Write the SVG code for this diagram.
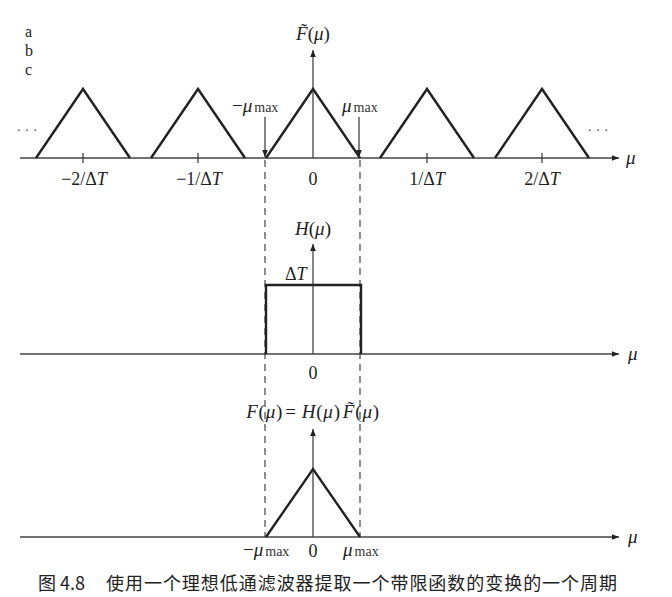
<svg xmlns="http://www.w3.org/2000/svg" width="672" height="597" viewBox="0 0 672 597">
<style>
.ax{stroke:#444;stroke-width:1.3;fill:none}
.th{stroke:#222;stroke-width:2.4;fill:none;stroke-linejoin:miter}
.dash{stroke:#333;stroke-width:1.1;stroke-dasharray:7,5;fill:none}
.tick{stroke:#333;stroke-width:1.2}
.m{font-family:"Liberation Serif",serif;font-style:italic;font-size:19px;fill:#222}
.r{font-family:"Liberation Serif",serif;font-size:18px;fill:#222}
.abc{font-family:"Liberation Serif",serif;font-size:16px;fill:#222}
.sub{font-family:"Liberation Serif",serif;font-size:14px;fill:#333;font-style:normal}
.dots{font-family:"Liberation Serif",serif;font-size:14px;fill:#555}
.cap{font-family:"Noto Sans CJK SC",sans-serif;font-size:18px;fill:#222}
</style>
<defs>
<marker id="ar" viewBox="0 0 10 10" refX="10" refY="5" markerWidth="8" markerHeight="7" markerUnits="userSpaceOnUse" orient="auto">
<path d="M0,1 L10,5 L0,9 z" fill="#222"/>
</marker>
</defs>

<g id="panel-labels">
<text class="abc" x="25" y="37">a</text>
<text class="abc" x="25" y="56">b</text>
<text class="abc" x="25" y="75">c</text>
</g>

<g id="connectors">
<line class="ax" x1="20" y1="158" x2="619" y2="158" marker-end="url(#ar)"/>
<line class="ax" x1="313" y1="158" x2="313" y2="50" marker-end="url(#ar)"/>
<line class="ax" x1="265" y1="117" x2="265" y2="157" marker-end="url(#ar)"/>
<line class="ax" x1="359" y1="117" x2="359" y2="157" marker-end="url(#ar)"/>
<line class="ax" x1="20" y1="354" x2="619" y2="354" marker-end="url(#ar)"/>
<line class="ax" x1="313" y1="354" x2="313" y2="244" marker-end="url(#ar)"/>
<line class="ax" x1="20" y1="537" x2="619" y2="537" marker-end="url(#ar)"/>
<line class="ax" x1="313" y1="537" x2="313" y2="429" marker-end="url(#ar)"/>
<line class="dash" x1="265" y1="160" x2="265" y2="537"/>
<line class="dash" x1="360" y1="160" x2="360" y2="537"/>
</g>

<g id="panel-a">
<polyline class="th" points="36,158 83,89 130,158"/>
<polyline class="th" points="151,158 198,89 245,158"/>
<polyline class="th" points="266,158 313,89 360,158"/>
<polyline class="th" points="380,158 427,89 474,158"/>
<polyline class="th" points="495,158 542,89 589,158"/>
<line class="tick" x1="83" y1="153" x2="83" y2="163"/>
<line class="tick" x1="198" y1="153" x2="198" y2="163"/>
<line class="tick" x1="427" y1="153" x2="427" y2="163"/>
<line class="tick" x1="542" y1="153" x2="542" y2="163"/>
<text class="dots" x="17" y="131" textLength="20" lengthAdjust="spacing">. . .</text>
<text class="dots" x="588" y="131" textLength="20" lengthAdjust="spacing">. . .</text>
<text class="r" x="84" y="185" text-anchor="middle">−2/Δ<tspan font-style="italic">T</tspan></text>
<text class="r" x="199" y="185" text-anchor="middle">−1/Δ<tspan font-style="italic">T</tspan></text>
<text class="r" x="313" y="185" text-anchor="middle">0</text>
<text class="r" x="427" y="185" text-anchor="middle">1/Δ<tspan font-style="italic">T</tspan></text>
<text class="r" x="542" y="185" text-anchor="middle">2/Δ<tspan font-style="italic">T</tspan></text>
<text class="m" x="626" y="164">μ</text>
<text class="m" x="313" y="40" text-anchor="middle">F̃<tspan font-style="normal">(</tspan>μ<tspan font-style="normal">)</tspan></text>
<text class="m" x="232" y="112"><tspan font-style="normal">−</tspan>μ<tspan class="sub" dx="2">max</tspan></text>
<text class="m" x="342" y="112">μ<tspan class="sub" dx="2">max</tspan></text>
</g>

<g id="panel-b">
<path class="th" d="M266,354 V285 H361 V354"/>
<text class="m" x="313" y="235" text-anchor="middle">H<tspan font-style="normal">(</tspan>μ<tspan font-style="normal">)</tspan></text>
<text class="r" x="285" y="280">Δ<tspan font-style="italic">T</tspan></text>
<text class="r" x="313" y="379" text-anchor="middle">0</text>
<text class="m" x="628" y="360">μ</text>
</g>

<g id="panel-c">
<polyline class="th" points="266,537 313,469 360,537"/>
<text class="m" x="313" y="418" text-anchor="middle" letter-spacing="0.8">F<tspan font-style="normal">(</tspan>μ<tspan font-style="normal">)</tspan><tspan font-style="normal" dx="2">=</tspan><tspan dx="5">H</tspan><tspan font-style="normal">(</tspan>μ<tspan font-style="normal">)</tspan><tspan dx="2">F̃</tspan><tspan font-style="normal">(</tspan>μ<tspan font-style="normal">)</tspan></text>
<text class="m" x="243" y="556"><tspan font-style="normal">−</tspan>μ<tspan class="sub" dx="2">max</tspan></text>
<text class="r" x="313" y="557" text-anchor="middle">0</text>
<text class="m" x="343" y="556">μ<tspan class="sub" dx="2">max</tspan></text>
<text class="m" x="628" y="543">μ</text>
</g>

<g id="caption">
<text class="cap" x="38" y="590">图 4.8</text>
<text class="cap" x="106" y="590" textLength="511" lengthAdjust="spacing">使用一个理想低通滤波器提取一个带限函数的变换的一个周期</text>
</g>
</svg>
